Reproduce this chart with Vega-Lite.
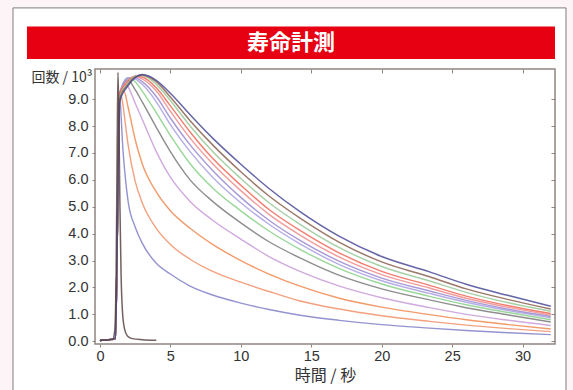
{
  "$schema": "https://vega.github.io/schema/vega-lite/v6.json",
  "background": "#fcf4f6",
  "autosize": {"type": "none"},
  "padding": {"left": 95, "top": 69, "right": 18, "bottom": 46},
  "width": 460,
  "height": 275,
  "view": {"fill": "white", "stroke": null},
  "config": {
    "axis": {"labelFont": "Liberation Sans", "labelFontSize": 14.5, "labelColor": "#333333", "tickColor": "#8f8580", "titleColor": "#333333", "titleFontWeight": "normal", "grid": false, "domain": false, "zindex": 1, "labelOverlap": false, "labelFlush": false}
  },
  "data": {"values": [
    {"s":"c01","t":0,"v":0.03},{"s":"c01","t":1.1,"v":0.1},{"s":"c01","t":1.25,"v":4.5},{"s":"c01","t":1.4,"v":9.2},{"s":"c01","t":1.5,"v":8.4},{"s":"c01","t":1.6,"v":7.4},{"s":"c01","t":1.8,"v":6.1},{"s":"c01","t":2,"v":5.2},{"s":"c01","t":2.5,"v":4.25},{"s":"c01","t":3,"v":3.65},{"s":"c01","t":4,"v":2.9},{"s":"c01","t":5,"v":2.5},{"s":"c01","t":6.4,"v":2.05},{"s":"c01","t":8,"v":1.72},{"s":"c01","t":10,"v":1.42},{"s":"c01","t":12,"v":1.18},{"s":"c01","t":14.2,"v":0.97},{"s":"c01","t":17,"v":0.78},{"s":"c01","t":20,"v":0.62},{"s":"c01","t":23.4,"v":0.49},{"s":"c01","t":26,"v":0.4},{"s":"c01","t":29,"v":0.32},{"s":"c01","t":32,"v":0.25},
    {"s":"c02","t":0,"v":0.03},{"s":"c02","t":1.1,"v":0.1},{"s":"c02","t":1.25,"v":4.5},{"s":"c02","t":1.4,"v":9.2},{"s":"c02","t":1.6,"v":8.9},{"s":"c02","t":1.8,"v":8.1},{"s":"c02","t":2,"v":7.3},{"s":"c02","t":2.5,"v":5.95},{"s":"c02","t":3,"v":5.15},{"s":"c02","t":4,"v":4.2},{"s":"c02","t":5,"v":3.6},{"s":"c02","t":6.4,"v":3.05},{"s":"c02","t":8,"v":2.6},{"s":"c02","t":10,"v":2.2},{"s":"c02","t":12,"v":1.85},{"s":"c02","t":14.2,"v":1.5},{"s":"c02","t":17,"v":1.2},{"s":"c02","t":20,"v":0.95},{"s":"c02","t":23.4,"v":0.74},{"s":"c02","t":26,"v":0.6},{"s":"c02","t":29,"v":0.47},{"s":"c02","t":32,"v":0.36},
    {"s":"c03","t":0,"v":0.03},{"s":"c03","t":1.1,"v":0.1},{"s":"c03","t":1.25,"v":4.5},{"s":"c03","t":1.4,"v":9.2},{"s":"c03","t":1.7,"v":9.3},{"s":"c03","t":2,"v":8.7},{"s":"c03","t":2.5,"v":7.5},{"s":"c03","t":3,"v":6.6},{"s":"c03","t":4,"v":5.55},{"s":"c03","t":5,"v":4.85},{"s":"c03","t":6.4,"v":4.2},{"s":"c03","t":8,"v":3.6},{"s":"c03","t":10,"v":3.0},{"s":"c03","t":12,"v":2.5},{"s":"c03","t":14.2,"v":2.05},{"s":"c03","t":17,"v":1.6},{"s":"c03","t":20,"v":1.27},{"s":"c03","t":23.4,"v":0.99},{"s":"c03","t":26,"v":0.8},{"s":"c03","t":29,"v":0.62},{"s":"c03","t":32,"v":0.46},
    {"s":"c04","t":0,"v":0.03},{"s":"c04","t":1.1,"v":0.1},{"s":"c04","t":1.25,"v":4.5},{"s":"c04","t":1.4,"v":9.2},{"s":"c04","t":1.8,"v":9.55},{"s":"c04","t":2,"v":9.45},{"s":"c04","t":2.5,"v":8.85},{"s":"c04","t":3,"v":8.25},{"s":"c04","t":4,"v":7.05},{"s":"c04","t":5,"v":6.1},{"s":"c04","t":6.4,"v":5.2},{"s":"c04","t":8,"v":4.5},{"s":"c04","t":10,"v":3.8},{"s":"c04","t":12,"v":3.15},{"s":"c04","t":14.2,"v":2.6},{"s":"c04","t":17,"v":2.05},{"s":"c04","t":20,"v":1.62},{"s":"c04","t":23.4,"v":1.25},{"s":"c04","t":26,"v":1.0},{"s":"c04","t":29,"v":0.78},{"s":"c04","t":32,"v":0.59},
    {"s":"c05","t":0,"v":0.03},{"s":"c05","t":1.1,"v":0.1},{"s":"c05","t":1.25,"v":4.5},{"s":"c05","t":1.4,"v":9.2},{"s":"c05","t":2,"v":9.7},{"s":"c05","t":2.5,"v":9.35},{"s":"c05","t":3,"v":8.9},{"s":"c05","t":4,"v":7.95},{"s":"c05","t":5,"v":7.05},{"s":"c05","t":6.4,"v":6.0},{"s":"c05","t":8,"v":5.2},{"s":"c05","t":10,"v":4.4},{"s":"c05","t":12,"v":3.7},{"s":"c05","t":14.2,"v":3.1},{"s":"c05","t":17,"v":2.45},{"s":"c05","t":20,"v":1.95},{"s":"c05","t":23.4,"v":1.54},{"s":"c05","t":26,"v":1.25},{"s":"c05","t":29,"v":0.98},{"s":"c05","t":32,"v":0.72},
    {"s":"c06","t":0,"v":0.03},{"s":"c06","t":1.1,"v":0.1},{"s":"c06","t":1.25,"v":4.5},{"s":"c06","t":1.4,"v":9.2},{"s":"c06","t":2,"v":9.8},{"s":"c06","t":2.5,"v":9.65},{"s":"c06","t":3,"v":9.3},{"s":"c06","t":4,"v":8.5},{"s":"c06","t":5,"v":7.65},{"s":"c06","t":6.4,"v":6.6},{"s":"c06","t":8,"v":5.7},{"s":"c06","t":10,"v":4.85},{"s":"c06","t":12,"v":4.1},{"s":"c06","t":14.2,"v":3.42},{"s":"c06","t":17,"v":2.7},{"s":"c06","t":20,"v":2.13},{"s":"c06","t":23.4,"v":1.67},{"s":"c06","t":26,"v":1.36},{"s":"c06","t":29,"v":1.07},{"s":"c06","t":32,"v":0.8},
    {"s":"c07","t":0,"v":0.03},{"s":"c07","t":1.1,"v":0.1},{"s":"c07","t":1.25,"v":4.5},{"s":"c07","t":1.4,"v":9.2},{"s":"c07","t":2,"v":9.8},{"s":"c07","t":2.5,"v":9.75},{"s":"c07","t":3,"v":9.55},{"s":"c07","t":4,"v":8.9},{"s":"c07","t":5,"v":8.05},{"s":"c07","t":6.4,"v":7.05},{"s":"c07","t":8,"v":6.1},{"s":"c07","t":10,"v":5.15},{"s":"c07","t":12,"v":4.35},{"s":"c07","t":14.2,"v":3.62},{"s":"c07","t":17,"v":2.85},{"s":"c07","t":20,"v":2.25},{"s":"c07","t":23.4,"v":1.78},{"s":"c07","t":26,"v":1.45},{"s":"c07","t":29,"v":1.14},{"s":"c07","t":32,"v":0.87},
    {"s":"c08","t":0,"v":0.03},{"s":"c08","t":1.1,"v":0.1},{"s":"c08","t":1.25,"v":4.5},{"s":"c08","t":1.4,"v":9.2},{"s":"c08","t":2,"v":9.75},{"s":"c08","t":2.5,"v":9.8},{"s":"c08","t":3,"v":9.65},{"s":"c08","t":4,"v":9.1},{"s":"c08","t":5,"v":8.3},{"s":"c08","t":6.4,"v":7.3},{"s":"c08","t":8,"v":6.35},{"s":"c08","t":10,"v":5.35},{"s":"c08","t":12,"v":4.5},{"s":"c08","t":14.2,"v":3.75},{"s":"c08","t":17,"v":2.97},{"s":"c08","t":20,"v":2.35},{"s":"c08","t":23.4,"v":1.87},{"s":"c08","t":26,"v":1.52},{"s":"c08","t":29,"v":1.19},{"s":"c08","t":32,"v":0.92},
    {"s":"c09","t":0,"v":0.03},{"s":"c09","t":1.1,"v":0.1},{"s":"c09","t":1.25,"v":4.5},{"s":"c09","t":1.4,"v":9.2},{"s":"c09","t":2,"v":9.7},{"s":"c09","t":2.5,"v":9.85},{"s":"c09","t":3,"v":9.75},{"s":"c09","t":4,"v":9.3},{"s":"c09","t":5,"v":8.55},{"s":"c09","t":6.4,"v":7.55},{"s":"c09","t":8,"v":6.6},{"s":"c09","t":10,"v":5.6},{"s":"c09","t":12,"v":4.72},{"s":"c09","t":14.2,"v":3.95},{"s":"c09","t":17,"v":3.13},{"s":"c09","t":20,"v":2.48},{"s":"c09","t":23.4,"v":1.98},{"s":"c09","t":26,"v":1.6},{"s":"c09","t":29,"v":1.26},{"s":"c09","t":32,"v":0.98},
    {"s":"c10","t":0,"v":0.03},{"s":"c10","t":1.1,"v":0.1},{"s":"c10","t":1.25,"v":4.5},{"s":"c10","t":1.4,"v":9.2},{"s":"c10","t":2,"v":9.65},{"s":"c10","t":2.5,"v":9.85},{"s":"c10","t":3,"v":9.82},{"s":"c10","t":4,"v":9.42},{"s":"c10","t":5,"v":8.75},{"s":"c10","t":6.4,"v":7.78},{"s":"c10","t":8,"v":6.8},{"s":"c10","t":10,"v":5.8},{"s":"c10","t":12,"v":4.9},{"s":"c10","t":14.2,"v":4.12},{"s":"c10","t":17,"v":3.28},{"s":"c10","t":20,"v":2.6},{"s":"c10","t":23.4,"v":2.08},{"s":"c10","t":26,"v":1.68},{"s":"c10","t":29,"v":1.32},{"s":"c10","t":32,"v":1.03},
    {"s":"c11","t":0,"v":0.03},{"s":"c11","t":1.1,"v":0.1},{"s":"c11","t":1.25,"v":4.5},{"s":"c11","t":1.4,"v":9.1},{"s":"c11","t":2,"v":9.6},{"s":"c11","t":2.5,"v":9.85},{"s":"c11","t":3,"v":9.88},{"s":"c11","t":4,"v":9.55},{"s":"c11","t":5,"v":8.95},{"s":"c11","t":6.4,"v":8.0},{"s":"c11","t":8,"v":7.05},{"s":"c11","t":10,"v":6.05},{"s":"c11","t":12,"v":5.15},{"s":"c11","t":14.2,"v":4.35},{"s":"c11","t":17,"v":3.48},{"s":"c11","t":20,"v":2.78},{"s":"c11","t":23.4,"v":2.24},{"s":"c11","t":26,"v":1.82},{"s":"c11","t":29,"v":1.43},{"s":"c11","t":32,"v":1.12},
    {"s":"c12","t":0,"v":0.03},{"s":"c12","t":1.1,"v":0.1},{"s":"c12","t":1.25,"v":4.5},{"s":"c12","t":1.4,"v":9.0},{"s":"c12","t":2,"v":9.55},{"s":"c12","t":2.5,"v":9.82},{"s":"c12","t":3,"v":9.9},{"s":"c12","t":4,"v":9.65},{"s":"c12","t":5,"v":9.08},{"s":"c12","t":6.4,"v":8.2},{"s":"c12","t":8,"v":7.3},{"s":"c12","t":10,"v":6.3},{"s":"c12","t":12,"v":5.4},{"s":"c12","t":14.2,"v":4.58},{"s":"c12","t":17,"v":3.68},{"s":"c12","t":20,"v":2.95},{"s":"c12","t":23.4,"v":2.4},{"s":"c12","t":26,"v":1.95},{"s":"c12","t":29,"v":1.55},{"s":"c12","t":32,"v":1.2},
    {"s":"c13","t":0,"v":0.03},{"s":"c13","t":1.1,"v":0.1},{"s":"c13","t":1.25,"v":4.5},{"s":"c13","t":1.4,"v":8.9},{"s":"c13","t":2,"v":9.5},{"s":"c13","t":2.5,"v":9.8},{"s":"c13","t":3,"v":9.92},{"s":"c13","t":3.5,"v":9.85},{"s":"c13","t":4,"v":9.7},{"s":"c13","t":5,"v":9.22},{"s":"c13","t":6.4,"v":8.42},{"s":"c13","t":8,"v":7.55},{"s":"c13","t":10,"v":6.58},{"s":"c13","t":12,"v":5.68},{"s":"c13","t":14.2,"v":4.82},{"s":"c13","t":17,"v":3.9},{"s":"c13","t":20,"v":3.15},{"s":"c13","t":23.4,"v":2.58},{"s":"c13","t":26,"v":2.12},{"s":"c13","t":29,"v":1.7},{"s":"c13","t":32,"v":1.3},
    {"s":"irf","t":0,"v":0.05},{"s":"irf","t":0.9,"v":0.06},{"s":"irf","t":1.05,"v":0.4},{"s":"irf","t":1.15,"v":2.5},{"s":"irf","t":1.22,"v":7},{"s":"irf","t":1.28,"v":10.0},{"s":"irf","t":1.34,"v":8.5},{"s":"irf","t":1.42,"v":5},{"s":"irf","t":1.5,"v":2.5},{"s":"irf","t":1.6,"v":1.1},{"s":"irf","t":1.75,"v":0.45},{"s":"irf","t":1.95,"v":0.2},{"s":"irf","t":2.3,"v":0.1},{"s":"irf","t":3,"v":0.06},{"s":"irf","t":4,"v":0.04}
  ]},
  "layer": [
    {
      "data": {"values": [{"part": "panel"}]},
      "mark": {"type": "rect", "fill": "white", "stroke": "#7d7d7d", "strokeWidth": 1},
      "encoding": {
        "x": {"datum": -6.17, "type": "quantitative", "axis": null},
        "x2": {"datum": 33.08},
        "y": {"datum": 12.39, "type": "quantitative", "axis": null},
        "y2": {"datum": -1.88}
      }
    },
    {
      "data": {"values": [{"part": "banner"}]},
      "mark": {"type": "rect", "fill": "#e60012"},
      "encoding": {
        "x": {"datum": -5.18, "type": "quantitative", "axis": null},
        "x2": {"datum": 32.3},
        "y": {"datum": 11.70, "type": "quantitative", "axis": null},
        "y2": {"datum": 10.49}
      }
    },
    {
      "data": {"values": [{"label": "寿命計測"}]},
      "mark": {"type": "text", "color": "white", "font": "Noto Sans CJK JP", "fontWeight": "bold", "fontSize": 22, "baseline": "middle", "align": "center"},
      "encoding": {
        "x": {"datum": 13.56, "type": "quantitative", "axis": null},
        "y": {"datum": 11.1, "type": "quantitative", "axis": null},
        "text": {"field": "label"}
      }
    },
    {
      "data": {"values": [{"part": "frame"}]},
      "mark": {"type": "rect", "fill": null, "stroke": "#8f8580", "strokeWidth": 1.5},
      "encoding": {
        "x": {"datum": -0.35, "type": "quantitative", "axis": null},
        "x2": {"datum": 32.3},
        "y": {"datum": 10.12, "type": "quantitative", "axis": null},
        "y2": {"datum": -0.1}
      }
    },
    {
      "mark": {"type": "line", "interpolate": "monotone", "opacity": 0.85},
      "encoding": {
        "x": {"field": "t", "type": "quantitative", "scale": {"domain": [-0.35, 32.3], "nice": false, "zero": false},
              "axis": {"orient": "bottom", "zindex": 2, "values": [0,5,10,15,20,25,30], "format": "d", "tickSize": 3, "labelPadding": 2, "labelOverlap": false, "title": "時間 / 秒", "titleFont": "Noto Sans CJK JP", "titleFontSize": 16, "titlePadding": 5}},
        "y": {"field": "v", "type": "quantitative", "scale": {"domain": [-0.1, 10.12], "nice": false, "zero": false},
              "axis": {"orient": "left", "zindex": 2, "values": [0,1,2,3,4,5,6,7,8,9], "format": ".1f", "tickSize": 3, "labelPadding": 4, "labelOverlap": false, "title": "回数 / 10³", "titleFont": "Noto Sans CJK JP", "titleFontSize": 14, "titleAngle": 0, "titleAlign": "right", "titleBaseline": "middle", "titleX": -3, "titleY": 8}},
        "color": {"field": "s", "type": "nominal", "legend": null,
                  "scale": {"domain": ["c01","c02","c03","c04","c05","c06","c07","c08","c09","c10","c11","c12","c13","irf"],
                            "range": ["#8080c8","#f0906a","#f08850","#c89ad8","#7a7a7a","#88d088","#a8a0e0","#9a88d0","#f08c8c","#f06858","#98c898","#8a6050","#4a4a98","#5a4444"]}},
        "strokeWidth": {"field": "s", "type": "ordinal", "legend": null,
                  "scale": {"domain": ["c01","c02","c03","c04","c05","c06","c07","c08","c09","c10","c11","c12","c13","irf"],
                            "range": [1.4,1.5,1.5,1.6,1.8,2,2.2,2.3,2.5,2.5,2.5,2.6,2.8,1.6]}}
      }
    },
    {
      "mark": {"type": "line", "strokeOpacity": 0},
      "encoding": {
        "x": {"field": "t", "type": "quantitative", "axis": {"orient": "top", "zindex": 2, "values": [0,5,10,15,20,25,30], "labels": false, "domain": false, "tickSize": -4, "title": null}},
        "y": {"field": "v", "type": "quantitative", "axis": {"orient": "right", "zindex": 2, "values": [0,1,2,3,4,5,6,7,8,9], "labels": false, "domain": false, "tickSize": -4, "title": null}},
        "detail": {"field": "s"}
      }
    }
  ],
  "resolve": {"axis": {"x": "independent", "y": "independent"}}
}
